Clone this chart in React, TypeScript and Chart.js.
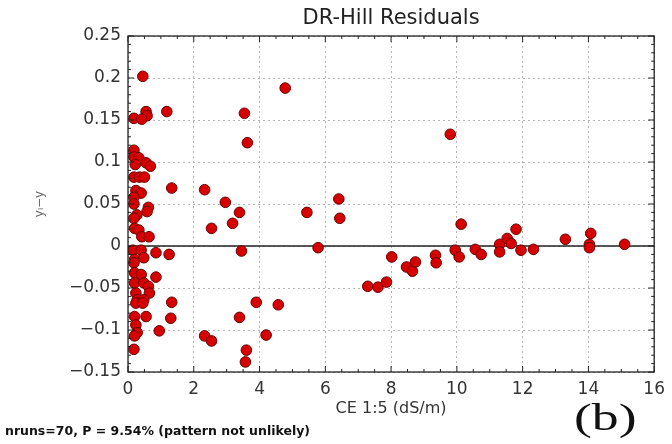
import React, { useEffect, useRef } from "react";
import { Chart, registerables } from "chart.js";

Chart.register(...registerables);

// CE 1:5 (dS/m) values
const ceValues = [
  0.45, 0.55, 0.58, 0.18, 0.42, 1.18, 0.18, 0.18, 0.33, 0.22, 0.55, 0.68, 0.18, 0.35, 0.5, 0.24, 0.4, 0.18,
  1.33, 0.18, 0.62, 0.58, 0.27, 0.18, 0.2, 0.33, 0.42, 0.64,
  0.15, 0.4, 0.85, 1.25, 0.2, 0.48, 0.18, 0.2, 0.4, 0.85, 0.2, 0.48, 0.62, 0.24, 0.65, 0.28, 0.48, 1.33,
  0.24, 0.45, 0.2, 0.55, 1.3, 0.24, 0.28, 0.95, 0.2, 0.18,
  2.33, 2.96, 3.39, 3.18, 2.54, 3.54, 3.63, 4.78, 3.45, 5.44, 6.41, 6.44, 5.78, 3.9, 4.57, 3.39, 2.33, 2.54,
  4.2, 3.6, 3.57,
  9.8, 10.13, 8.02, 7.29, 7.6, 7.86, 8.47, 8.65, 8.74, 9.35, 9.37, 9.95, 10.07, 10.56, 10.74, 11.3, 11.3,
  11.53, 11.65, 11.8, 11.95, 12.33, 13.3, 14.07, 14.03, 14.03, 15.1,
];

// residuals y_i - y
const residuals = [
  0.202, 0.16, 0.155, 0.152, 0.151, 0.16, 0.114, 0.106, 0.105, 0.097, 0.099, 0.095, 0.082, 0.082, 0.082,
  0.066, 0.063, 0.058, 0.069, 0.05, 0.046, 0.041, 0.037, 0.033, 0.021, 0.019, 0.011, 0.011,
  -0.005, -0.005, -0.008, -0.01, -0.016, -0.014, -0.02, -0.032, -0.034, -0.037, -0.044, -0.044, -0.048,
  -0.056, -0.056, -0.064, -0.064, -0.067, -0.068, -0.068, -0.084, -0.084, -0.086, -0.094, -0.103, -0.101,
  -0.107, -0.123,
  0.067, 0.052, 0.04, 0.027, 0.021, 0.158, 0.123, 0.188, -0.006, 0.04, 0.056, 0.033, -0.002, -0.067, -0.07,
  -0.085, -0.107, -0.113, -0.106, -0.124, -0.138,
  0.133, 0.026, -0.013, -0.048, -0.049, -0.043, -0.025, -0.03, -0.019, -0.011, -0.02, -0.005, -0.013, -0.004,
  -0.01, 0.002, -0.007, 0.009, 0.003, 0.02, -0.005, -0.004, 0.008, 0.015, 0.002, -0.002, 0.002,
];

const xTickValues = [0, 2, 4, 6, 8, 10, 12, 14, 16];
const yTickValues = [-0.15, -0.1, -0.05, 0, 0.05, 0.1, 0.15, 0.2, 0.25];
const zeroLineX = [0, 16];

const titleText = "DR-Hill Residuals";
const xTitle = "CE 1:5 (dS/m)";
const yTitle = "yᵢ−y";
const noteText = "nruns=70, P = 9.54% (pattern not unlikely)";
const panelLabel = "(b)";

const FONT = "'DejaVu Sans', sans-serif";

const fmt = (v: number) => {
  const s = String(Number(v.toFixed(2)));
  return s.replace("-", "\u2212");
};

const framePlugin = {
  id: "frame",
  afterDatasetsDraw(chart: any) {
    const { ctx, chartArea, scales } = chart;
    const { left, right, top, bottom } = chartArea;
    const xs = scales.x;
    const ys = scales.y;
    ctx.save();
    ctx.strokeStyle = "#222";
    ctx.lineWidth = 1.3;
    ctx.strokeRect(left, top, right - left, bottom - top);
    ctx.lineWidth = 1;
    ctx.beginPath();
    for (let i = 0; i <= 32; i++) {
      const v = i * 0.5;
      const px = xs.getPixelForValue(v);
      const len = i % 4 === 0 ? 6 : 3;
      ctx.moveTo(px, bottom);
      ctx.lineTo(px, bottom - len);
      ctx.moveTo(px, top);
      ctx.lineTo(px, top + len);
    }
    for (let i = -15; i <= 25; i++) {
      const v = i * 0.01;
      const py = ys.getPixelForValue(v);
      const len = i % 5 === 0 ? 6 : 3;
      ctx.moveTo(left, py);
      ctx.lineTo(left + len, py);
      ctx.moveTo(right, py);
      ctx.lineTo(right - len, py);
    }
    ctx.stroke();
    ctx.restore();
  },
  afterDraw(chart: any) {
    const { ctx, chartArea } = chart;
    ctx.save();
    ctx.fillStyle = "#222";
    ctx.textAlign = "center";
    ctx.textBaseline = "middle";
    ctx.font = `21px ${FONT}`;
    ctx.fillText(titleText, (chartArea.left + chartArea.right) / 2, 19);
    ctx.textAlign = "left";
    ctx.font = `bold 12.5px ${FONT}`;
    ctx.fillStyle = "#111";
    ctx.fillText(noteText, 5, 432);
    ctx.translate(574, 420);
    ctx.scale(1.45, 1);
    ctx.font = `37px 'Liberation Serif', serif`;
    ctx.fillStyle = "#111";
    ctx.fillText(panelLabel, 0, 0);
    ctx.restore();
  },
};

export default function App() {
  const ref = useRef<HTMLCanvasElement | null>(null);

  useEffect(() => {
    if (!ref.current) return;
    const points = ceValues.map((x, i) => ({ x, y: residuals[i] }));
    const chart = new Chart(ref.current, {
      type: "scatter",
      data: {
        datasets: [
          {
            type: "scatter",
            data: points,
            pointRadius: 5.3,
            pointBackgroundColor: "#d60000",
            pointBorderColor: "#6a0000",
            pointBorderWidth: 1,
            order: 1,
          },
          {
            type: "line",
            data: zeroLineX.map((x) => ({ x, y: 0 })),
            borderColor: "#222",
            borderWidth: 1.6,
            pointRadius: 0,
            order: 2,
          } as any,
        ],
      },
      options: {
        animation: false,
        responsive: false,
        maintainAspectRatio: false,
        layout: { padding: { top: 36, right: 15, left: 0, bottom: 0 } },
        plugins: {
          legend: { display: false },
          title: { display: false },
          tooltip: { enabled: false },
        },
        scales: {
          x: {
            type: "linear",
            min: 0,
            max: 16,
            afterBuildTicks: (s: any) => {
              s.ticks = xTickValues.map((value) => ({ value }));
            },
            afterFit: (s: any) => {
              s.height = 72;
            },
            ticks: {
              padding: 7,
              color: "#333",
              font: { family: FONT, size: 17 },
              callback: (v: any) => fmt(Number(v)),
              maxRotation: 0,
            },
            grid: { color: "#b5b5b5", lineWidth: 1, drawTicks: false },
            border: { display: false, dash: [2, 3] },
            title: {
              display: true,
              text: xTitle,
              color: "#333",
              font: { family: FONT, size: 16 },
              padding: { top: 0, bottom: 26 },
            },
          },
          y: {
            type: "linear",
            min: -0.15,
            max: 0.25,
            afterBuildTicks: (s: any) => {
              s.ticks = yTickValues.map((value) => ({ value }));
            },
            afterFit: (s: any) => {
              s.width = 128;
            },
            ticks: {
              padding: 7,
              color: "#333",
              font: { family: FONT, size: 17 },
              callback: (v: any) => fmt(Number(v)),
            },
            grid: { color: "#b5b5b5", lineWidth: 1, drawTicks: false },
            border: { display: false, dash: [2, 3] },
            title: {
              display: true,
              text: yTitle,
              color: "#666",
              font: { family: FONT, size: 12 },
              padding: { top: 33, bottom: 0 },
            },
          },
        },
      },
      plugins: [framePlugin],
    } as any);
    return () => chart.destroy();
  }, []);

  return (
    <div style={{ position: "absolute", left: 0, top: 0, width: 672, height: 444, background: "#fff" }}>
      <canvas ref={ref} width={672} height={444} style={{ width: 672, height: 444 }} />
    </div>
  );
}
